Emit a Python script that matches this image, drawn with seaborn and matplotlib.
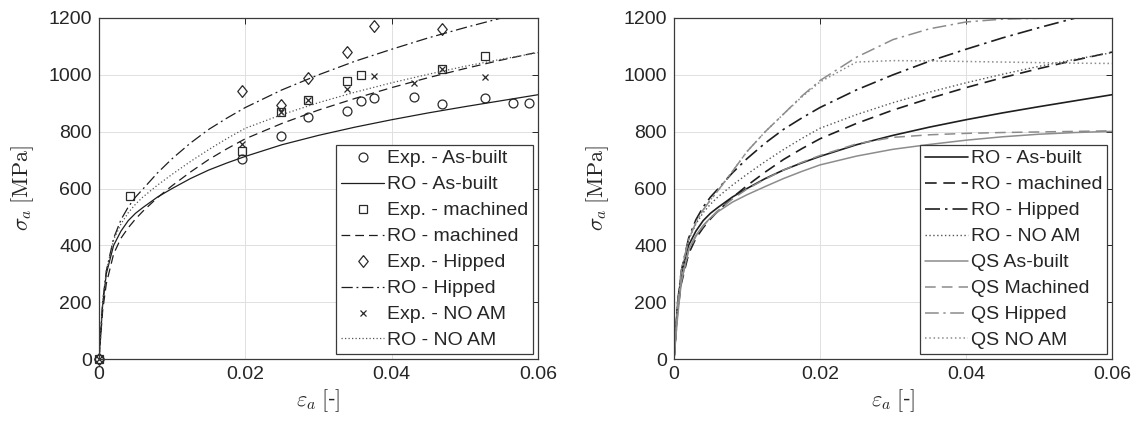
import matplotlib
matplotlib.use("Agg")
import matplotlib.pyplot as plt
import seaborn as sns

# ---------------- data ----------------
strain = [0, 0.0005, 0.001, 0.002, 0.003, 0.004, 0.005, 0.006, 0.008, 0.010,
          0.0125, 0.015, 0.0175, 0.02, 0.025, 0.03, 0.035, 0.04, 0.045, 0.05,
          0.055, 0.06]

ro_asbuilt = [0, 190, 300, 400, 450, 487, 513, 533, 570, 600, 635, 665, 690, 713,
              754, 787, 816, 842, 866, 888, 909, 930]
ro_machined = [0, 170, 265, 370, 425, 462, 493, 520, 568, 610, 658, 702, 740, 775,
               829, 876, 917, 955, 990, 1022, 1052, 1080]
ro_hipped = [0, 200, 310, 425, 490, 535, 570, 598, 655, 705, 760, 808, 848, 885,
             947, 1000, 1048, 1090, 1130, 1166, 1200, 1231]
ro_noam = [0, 200, 310, 420, 475, 515, 545, 570, 612, 650, 695, 737, 776, 812,
           860, 902, 939, 972, 1002, 1030, 1055, 1078]

qs_asbuilt = [0, 150, 270, 385, 435, 470, 497, 518, 552, 578, 607, 635, 660, 683,
              714, 738, 755, 770, 782, 791, 797, 801]
qs_machined = [0, 170, 275, 380, 432, 468, 497, 522, 563, 598, 633, 665, 692, 716,
               757, 780, 789, 794, 797, 799, 801, 803]
qs_hipped = [0, 190, 310, 420, 480, 525, 560, 592, 660, 730, 800, 862, 925, 980,
             1062, 1124, 1162, 1186, 1196, 1199, 1200, 1200]
qs_noam = [0, 190, 310, 420, 480, 525, 560, 592, 660, 730, 800, 862, 922, 975,
           1045, 1050, 1049, 1047, 1045, 1043, 1041, 1040]

exp_asbuilt_x = [0, 0.0196, 0.0249, 0.0285, 0.0339, 0.0358, 0.0376, 0.0431,
                 0.0469, 0.0527, 0.0566, 0.0588]
exp_asbuilt_y = [0, 704, 786, 853, 874, 907, 920, 921, 899, 920, 902, 902]
exp_machined_x = [0, 0.0043, 0.0196, 0.0249, 0.0285, 0.0339, 0.0358, 0.0469, 0.0527]
exp_machined_y = [0, 572, 733, 870, 910, 977, 998, 1021, 1068]
exp_hipped_x = [0, 0.0196, 0.0249, 0.0285, 0.0339, 0.0376, 0.0469]
exp_hipped_y = [0, 942, 895, 990, 1079, 1171, 1163]
exp_noam_x = [0, 0.0196, 0.0249, 0.0285, 0.0339, 0.0376, 0.0431, 0.0469, 0.0527]
exp_noam_y = [0, 757, 870, 910, 951, 995, 972, 1021, 991]

x_ticks = [0, 0.02, 0.04, 0.06]
x_ticklabels = ["0", "0.02", "0.04", "0.06"]
y_ticks = [0, 200, 400, 600, 800, 1000, 1200]
y_ticklabels = ["0", "200", "400", "600", "800", "1000", "1200"]

# ---------------- style ----------------
sns.set_theme(style="white")
plt.rcParams["font.family"] = ["Liberation Sans", "DejaVu Sans"]
plt.rcParams["mathtext.fontset"] = "cm"

DARK = "#1e1e1e"
GRAY = "#8c8c8c"
TXT = "#262626"

SOLID = "-"
DASHED = (0, (7, 4))
DASHDOT = (0, (9, 3, 1.5, 3))
DOTTED = (0, (1, 1.8))

diamond = [(0, 1), (0.8, 0), (0, -1), (-0.8, 0), (0, 1)]

fig = plt.figure(figsize=(11.38, 4.26), dpi=100)
axL = fig.add_axes([99 / 1138, 67 / 426, 439 / 1138, 341 / 426])
axR = fig.add_axes([674 / 1138, 67 / 426, 438 / 1138, 341 / 426])


def curve(ax, y, label, color, ls, lw=1.0):
    sns.lineplot(x=strain, y=y, ax=ax, color=color, linewidth=lw, label=label,
                 estimator=None, sort=False, linestyle=ls)
    ax.lines[-1].set_linestyle(ls)


def points(ax, x, y, label, marker, ms, mew=0.9):
    sns.lineplot(x=x, y=y, ax=ax, color=DARK, label=label, estimator=None,
                 sort=False, linestyle="none", marker=marker, markersize=ms,
                 markerfacecolor="none", markeredgecolor="#2a2a2a",
                 markeredgewidth=mew)
    ln = ax.lines[-1]
    ln.set_linestyle("none")
    ln.set_clip_on(False)


# left panel
points(axL, exp_asbuilt_x, exp_asbuilt_y, "Exp. - As-built", "o", 6.4)
curve(axL, ro_asbuilt, "RO - As-built", DARK, SOLID, 0.9)
points(axL, exp_machined_x, exp_machined_y, "Exp. - machined", "s", 5.2)
curve(axL, ro_machined, "RO - machined", DARK, DASHED, 0.9)
points(axL, exp_hipped_x, exp_hipped_y, "Exp. - Hipped", diamond, 8.5)
curve(axL, ro_hipped, "RO - Hipped", DARK, DASHDOT, 0.9)
points(axL, exp_noam_x, exp_noam_y, "Exp. - NO AM", "x", 4.5)
curve(axL, ro_noam, "RO - NO AM", "#555555", DOTTED, 0.9)

# right panel
curve(axR, ro_asbuilt, "RO - As-built", DARK, SOLID, 1.2)
curve(axR, ro_machined, "RO - machined", DARK, DASHED, 1.2)
curve(axR, ro_hipped, "RO - Hipped", DARK, DASHDOT, 1.2)
curve(axR, ro_noam, "RO - NO AM", "#555555", DOTTED, 1.0)
curve(axR, qs_asbuilt, "QS As-built", GRAY, SOLID, 1.1)
curve(axR, qs_machined, "QS Machined", GRAY, DASHED, 1.1)
curve(axR, qs_hipped, "QS Hipped", GRAY, DASHDOT, 1.1)
curve(axR, qs_noam, "QS NO AM", GRAY, DOTTED, 1.1)

for ax in (axL, axR):
    ax.set_xlim(0, 0.06)
    ax.set_ylim(0, 1200)
    ax.set_xticks(x_ticks, x_ticklabels)
    ax.set_yticks(y_ticks, y_ticklabels)
    ax.grid(True, color="#e0e0e0", linewidth=0.7)
    ax.set_axisbelow(True)
    ax.tick_params(direction="in", length=4, width=0.7, top=True, right=True,
                   labelsize=14, colors=TXT, pad=5)
    for s in ax.spines.values():
        s.set_visible(True)
        s.set_color("#3a3a3a")
        s.set_linewidth(0.9)
    ax.set_xlabel(r"$\varepsilon_a\;[$-$]$", fontsize=16, color=TXT, labelpad=3)
    ax.set_ylabel(r"$\sigma_a\;[\mathrm{MPa}]$", fontsize=16, color=TXT, labelpad=9)
    leg = ax.legend(loc="lower right", fontsize=14, frameon=True, fancybox=False,
                    edgecolor="#3a3a3a", framealpha=1, borderaxespad=0.25,
                    handlelength=2.2, handletextpad=0.15, labelspacing=0.43,
                    borderpad=0.25)
    leg.get_frame().set_linewidth(0.9)
    for t in leg.get_texts():
        t.set_color(TXT)

fig.savefig("out.png", dpi=100, facecolor="white")
